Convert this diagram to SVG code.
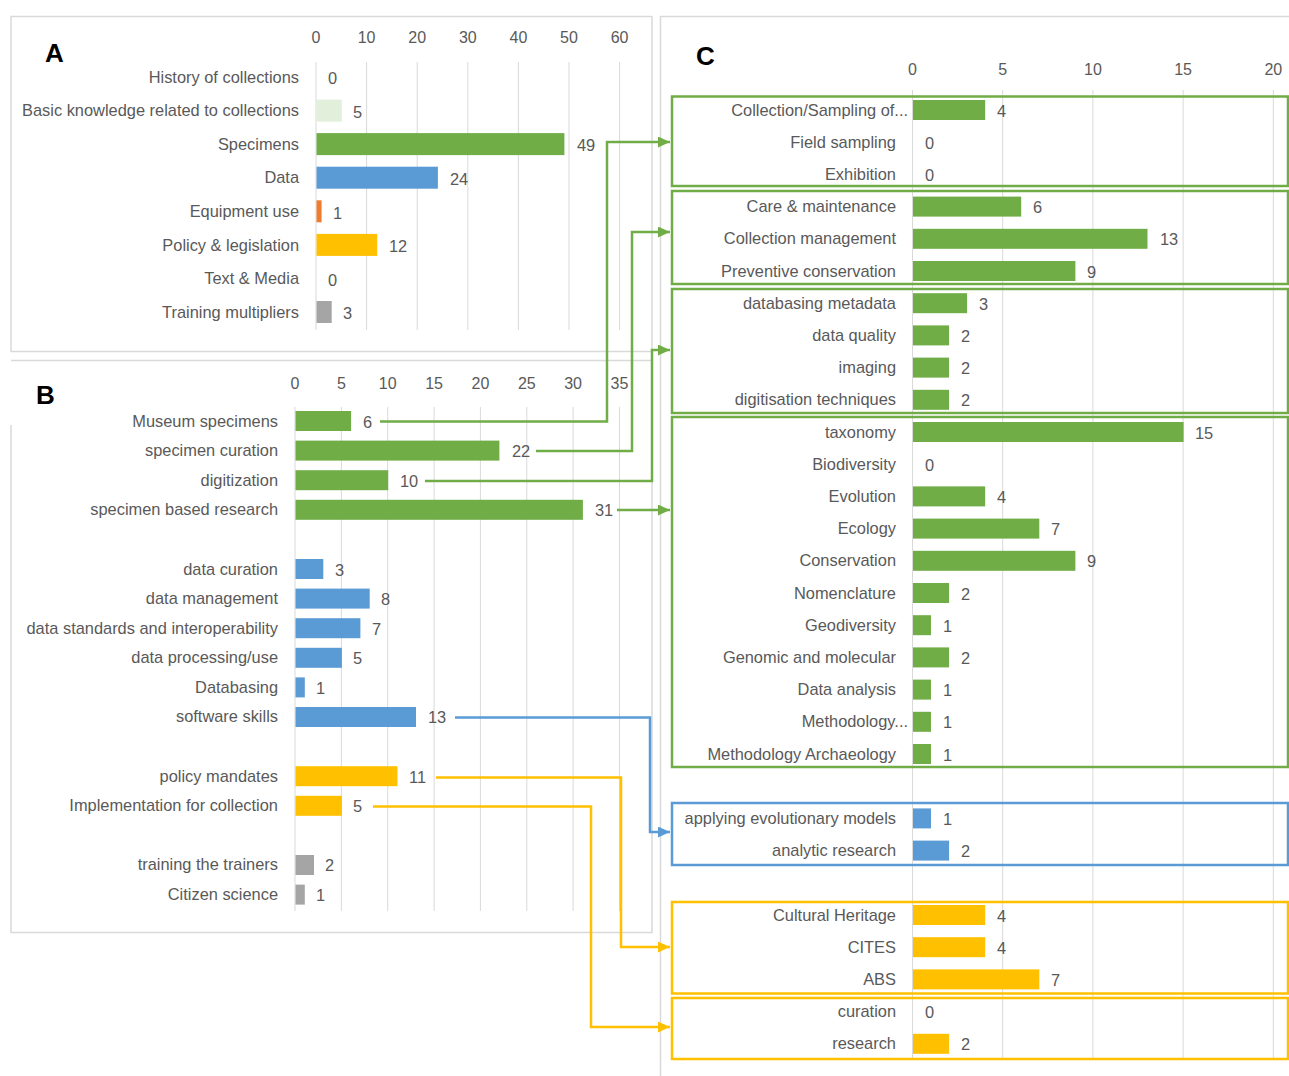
<svg xmlns="http://www.w3.org/2000/svg" width="1289" height="1076" viewBox="0 0 1289 1076">
<style>
text{font-family:"Liberation Sans",Arial,sans-serif;fill:#595959;font-size:16.4px}
.lbl{text-anchor:end}
.ax{text-anchor:middle;font-size:16px}
.ttl{font-size:26px;font-weight:bold;fill:#000}
.grid{stroke:#D9D9D9;stroke-width:1}
.frame{fill:none;stroke:#D9D9D9;stroke-width:1.5}
.g{fill:#70AD47}.b{fill:#5B9BD5}.y{fill:#FFC000}.gr{fill:#A5A5A5}.o{fill:#ED7D31}.lg{fill:#E2EFDA}
.box{fill:none;stroke-width:2.5}
.con{fill:none;stroke-width:2.5}
</style>
<defs>
<marker id="ag" markerUnits="userSpaceOnUse" markerWidth="13" markerHeight="11" refX="12" refY="5.5" orient="auto"><path d="M0,0 L12,5.5 L0,11 z" fill="#70AD47"/></marker>
<marker id="ab" markerUnits="userSpaceOnUse" markerWidth="13" markerHeight="11" refX="12" refY="5.5" orient="auto"><path d="M0,0 L12,5.5 L0,11 z" fill="#5B9BD5"/></marker>
<marker id="ay" markerUnits="userSpaceOnUse" markerWidth="13" markerHeight="11" refX="12" refY="5.5" orient="auto"><path d="M0,0 L12,5.5 L0,11 z" fill="#FFC000"/></marker>
</defs>
<rect width="1289" height="1076" fill="#fff"/>

<!-- Panel A -->
<g id="panelA">
<rect class="frame" x="11" y="16.5" width="641" height="335"/>
<text class="ttl" x="45" y="62">A</text>
<g class="grid">
<line x1="316" y1="62" x2="316" y2="330"/><line x1="366.6" y1="62" x2="366.6" y2="330"/><line x1="417.2" y1="62" x2="417.2" y2="330"/><line x1="467.8" y1="62" x2="467.8" y2="330"/><line x1="518.4" y1="62" x2="518.4" y2="330"/><line x1="569" y1="62" x2="569" y2="330"/><line x1="619.6" y1="62" x2="619.6" y2="330"/>
</g>
<text class="ax" x="316" y="43">0</text><text class="ax" x="366.6" y="43">10</text><text class="ax" x="417.2" y="43">20</text><text class="ax" x="467.8" y="43">30</text><text class="ax" x="518.4" y="43">40</text><text class="ax" x="569" y="43">50</text><text class="ax" x="619.6" y="43">60</text>
<text class="lbl" x="299" y="82.5">History of collections</text><text x="328" y="84">0</text>
<text class="lbl" x="299" y="116">Basic knowledge related to collections</text><rect class="lg" x="316.5" y="99.6" width="25.3" height="22"/><text x="353" y="117.5">5</text>
<text class="lbl" x="299" y="149.5">Specimens</text><rect class="g" x="316.5" y="133.1" width="247.9" height="22"/><text x="577" y="151">49</text>
<text class="lbl" x="299" y="183">Data</text><rect class="b" x="316.5" y="166.7" width="121.4" height="22"/><text x="450" y="184.5">24</text>
<text class="lbl" x="299" y="217">Equipment use</text><rect class="o" x="316.5" y="200.3" width="5.1" height="22"/><text x="333" y="218.5">1</text>
<text class="lbl" x="299" y="250.5">Policy &amp; legislation</text><rect class="y" x="316.5" y="233.9" width="60.7" height="22"/><text x="389" y="252">12</text>
<text class="lbl" x="299" y="284">Text &amp; Media</text><text x="328" y="285.5">0</text>
<text class="lbl" x="299" y="317.5">Training multipliers</text><rect class="gr" x="316.5" y="301" width="15.2" height="22"/><text x="343" y="319">3</text>
</g>

<!-- Panel B -->
<g id="panelB">
<path class="frame" d="M11,360.5 H652 V932.5 H11 V425"/>
<text class="ttl" x="36" y="404">B</text>
<g class="grid">
<line x1="295" y1="407" x2="295" y2="911"/><line x1="341.4" y1="407" x2="341.4" y2="911"/><line x1="387.7" y1="407" x2="387.7" y2="911"/><line x1="434.1" y1="407" x2="434.1" y2="911"/><line x1="480.4" y1="407" x2="480.4" y2="911"/><line x1="526.8" y1="407" x2="526.8" y2="911"/><line x1="573.1" y1="407" x2="573.1" y2="911"/><line x1="619.5" y1="407" x2="619.5" y2="911"/>
</g>
<text class="ax" x="295" y="389">0</text><text class="ax" x="341.4" y="389">5</text><text class="ax" x="387.7" y="389">10</text><text class="ax" x="434.1" y="389">15</text><text class="ax" x="480.4" y="389">20</text><text class="ax" x="526.8" y="389">25</text><text class="ax" x="573.1" y="389">30</text><text class="ax" x="619.5" y="389">35</text>
<text class="lbl" x="278" y="426.5">Museum specimens</text><rect class="g" x="295.5" y="411" width="55.6" height="20"/><text x="363" y="427.5">6</text>
<text class="lbl" x="278" y="456">specimen curation</text><rect class="g" x="295.5" y="440.6" width="203.9" height="20"/><text x="512" y="457">22</text>
<text class="lbl" x="278" y="485.5">digitization</text><rect class="g" x="295.5" y="470.2" width="92.7" height="20"/><text x="400" y="486.5">10</text>
<text class="lbl" x="278" y="515">specimen based research</text><rect class="g" x="295.5" y="499.8" width="287.4" height="20"/><text x="595" y="516">31</text>
<text class="lbl" x="278" y="574.5">data curation</text><rect class="b" x="295.5" y="559" width="27.8" height="20"/><text x="335" y="575.5">3</text>
<text class="lbl" x="278" y="604">data management</text><rect class="b" x="295.5" y="588.6" width="74.2" height="20"/><text x="381" y="605">8</text>
<text class="lbl" x="278" y="633.5">data standards and interoperability</text><rect class="b" x="295.5" y="618.2" width="64.9" height="20"/><text x="372" y="634.5">7</text>
<text class="lbl" x="278" y="663">data processing/use</text><rect class="b" x="295.5" y="647.8" width="46.4" height="20"/><text x="353" y="664">5</text>
<text class="lbl" x="278" y="692.5">Databasing</text><rect class="b" x="295.5" y="677.4" width="9.3" height="20"/><text x="316" y="693.5">1</text>
<text class="lbl" x="278" y="722">software skills</text><rect class="b" x="295.5" y="707" width="120.5" height="20"/><text x="428" y="723">13</text>
<text class="lbl" x="278" y="781.5">policy mandates</text><rect class="y" x="295.5" y="766.2" width="102" height="20"/><text x="409" y="782.5">11</text>
<text class="lbl" x="278" y="811">Implementation for collection</text><rect class="y" x="295.5" y="795.8" width="46.4" height="20"/><text x="353" y="812">5</text>
<text class="lbl" x="278" y="870">training the trainers</text><rect class="gr" x="295.5" y="855" width="18.5" height="20"/><text x="325" y="871">2</text>
<text class="lbl" x="278" y="900">Citizen science</text><rect class="gr" x="295.5" y="884.6" width="9.3" height="20"/><text x="316" y="901">1</text>
</g>

<!-- Panel C -->
<g id="panelC">
<path class="frame" d="M1289,16.5 H660.5 V1076"/>
<text class="ttl" x="696" y="65">C</text>
<g class="grid">
<line x1="912.5" y1="90" x2="912.5" y2="1060"/><line x1="1002.7" y1="90" x2="1002.7" y2="1060"/><line x1="1092.9" y1="90" x2="1092.9" y2="1060"/><line x1="1183.1" y1="90" x2="1183.1" y2="1060"/><line x1="1273.3" y1="90" x2="1273.3" y2="1060"/>
</g>
<text class="ax" x="912.5" y="75">0</text><text class="ax" x="1002.7" y="75">5</text><text class="ax" x="1092.9" y="75">10</text><text class="ax" x="1183.1" y="75">15</text><text class="ax" x="1273.3" y="75">20</text>
</g>

<g id="groupC1">
<rect class="box" x="672" y="96.5" width="616" height="89.5" stroke="#70AD47"/>
<text class="lbl" x="908" y="115.5">Collection/Sampling of...</text><rect class="g" x="913" y="100" width="72.2" height="20"/><text x="997" y="116.5">4</text>
<text class="lbl" x="896" y="147.7">Field sampling</text><text x="925" y="148.7">0</text>
<text class="lbl" x="896" y="179.9">Exhibition</text><text x="925" y="180.9">0</text>
</g>
<g id="groupC2">
<rect class="box" x="672" y="191" width="616" height="93" stroke="#70AD47"/>
<text class="lbl" x="896" y="212.1">Care &amp; maintenance</text><rect class="g" x="913" y="196.6" width="108.2" height="20"/><text x="1033" y="213.1">6</text>
<text class="lbl" x="896" y="244.3">Collection management</text><rect class="g" x="913" y="228.8" width="234.5" height="20"/><text x="1160" y="245.3">13</text>
<text class="lbl" x="896" y="276.5">Preventive conservation</text><rect class="g" x="913" y="261" width="162.4" height="20"/><text x="1087" y="277.5">9</text>
</g>
<g id="groupC3">
<rect class="box" x="672" y="289" width="616" height="124" stroke="#70AD47"/>
<text class="lbl" x="896" y="308.7">databasing metadata</text><rect class="g" x="913" y="293.2" width="54.1" height="20"/><text x="979" y="309.7">3</text>
<text class="lbl" x="896" y="340.9">data quality</text><rect class="g" x="913" y="325.4" width="36.1" height="20"/><text x="961" y="341.9">2</text>
<text class="lbl" x="896" y="373.1">imaging</text><rect class="g" x="913" y="357.6" width="36.1" height="20"/><text x="961" y="374.1">2</text>
<text class="lbl" x="896" y="405.3">digitisation techniques</text><rect class="g" x="913" y="389.8" width="36.1" height="20"/><text x="961" y="406.3">2</text>
</g>
<g id="groupC4">
<rect class="box" x="672" y="417" width="616" height="350" stroke="#70AD47"/>
<text class="lbl" x="896" y="437.5">taxonomy</text><rect class="g" x="913" y="422" width="270.6" height="20"/><text x="1195" y="438.5">15</text>
<text class="lbl" x="896" y="469.7">Biodiversity</text><text x="925" y="470.7">0</text>
<text class="lbl" x="896" y="501.9">Evolution</text><rect class="g" x="913" y="486.4" width="72.2" height="20"/><text x="997" y="502.9">4</text>
<text class="lbl" x="896" y="534.1">Ecology</text><rect class="g" x="913" y="518.6" width="126.3" height="20"/><text x="1051" y="535.1">7</text>
<text class="lbl" x="896" y="566.3">Conservation</text><rect class="g" x="913" y="550.8" width="162.4" height="20"/><text x="1087" y="567.3">9</text>
<text class="lbl" x="896" y="598.5">Nomenclature</text><rect class="g" x="913" y="583" width="36.1" height="20"/><text x="961" y="599.5">2</text>
<text class="lbl" x="896" y="630.7">Geodiversity</text><rect class="g" x="913" y="615.2" width="18" height="20"/><text x="943" y="631.7">1</text>
<text class="lbl" x="896" y="662.9">Genomic and molecular</text><rect class="g" x="913" y="647.4" width="36.1" height="20"/><text x="961" y="663.9">2</text>
<text class="lbl" x="896" y="695.1">Data analysis</text><rect class="g" x="913" y="679.6" width="18" height="20"/><text x="943" y="696.1">1</text>
<text class="lbl" x="908" y="727.3">Methodology...</text><rect class="g" x="913" y="711.8" width="18" height="20"/><text x="943" y="728.3">1</text>
<text class="lbl" x="896" y="759.5">Methodology Archaeology</text><rect class="g" x="913" y="744" width="18" height="20"/><text x="943" y="760.5">1</text>
</g>
<g id="groupC5">
<rect class="box" x="672" y="803" width="616" height="62" stroke="#5B9BD5"/>
<text class="lbl" x="896" y="823.9">applying evolutionary models</text><rect class="b" x="913" y="808.4" width="18" height="20"/><text x="943" y="824.9">1</text>
<text class="lbl" x="896" y="856.1">analytic research</text><rect class="b" x="913" y="840.6" width="36.1" height="20"/><text x="961" y="857.1">2</text>
</g>
<g id="groupC6">
<rect class="box" x="672" y="902" width="616" height="91.5" stroke="#FFC000"/>
<text class="lbl" x="896" y="920.5">Cultural Heritage</text><rect class="y" x="913" y="905" width="72.2" height="20"/><text x="997" y="921.5">4</text>
<text class="lbl" x="896" y="952.7">CITES</text><rect class="y" x="913" y="937.2" width="72.2" height="20"/><text x="997" y="953.7">4</text>
<text class="lbl" x="896" y="984.9">ABS</text><rect class="y" x="913" y="969.4" width="126.3" height="20"/><text x="1051" y="985.9">7</text>
</g>
<g id="groupC7">
<rect class="box" x="672" y="998" width="616" height="61" stroke="#FFC000"/>
<text class="lbl" x="896" y="1017.1">curation</text><text x="925" y="1018.1">0</text>
<text class="lbl" x="896" y="1049.3">research</text><rect class="y" x="913" y="1033.8" width="36.1" height="20"/><text x="961" y="1050.3">2</text>
</g>

<!-- Connectors -->
<g id="connectors">
<path class="con" stroke="#70AD47" marker-end="url(#ag)" d="M380,421.5 H607 V142 H670"/>
<path class="con" stroke="#70AD47" marker-end="url(#ag)" d="M536,451 H632 V232 H670"/>
<path class="con" stroke="#70AD47" marker-end="url(#ag)" d="M425,481 H652 V350 H670"/>
<path class="con" stroke="#70AD47" marker-end="url(#ag)" d="M617,510 H670"/>
<path class="con" stroke="#5B9BD5" marker-end="url(#ab)" d="M455,717.5 H650 V832 H670"/>
<path class="con" stroke="#FFC000" marker-end="url(#ay)" d="M436,777.5 H621 V947 H670"/>
<path class="con" stroke="#FFC000" marker-end="url(#ay)" d="M373,806.5 H591 V1027 H670"/>
</g>
</svg>
